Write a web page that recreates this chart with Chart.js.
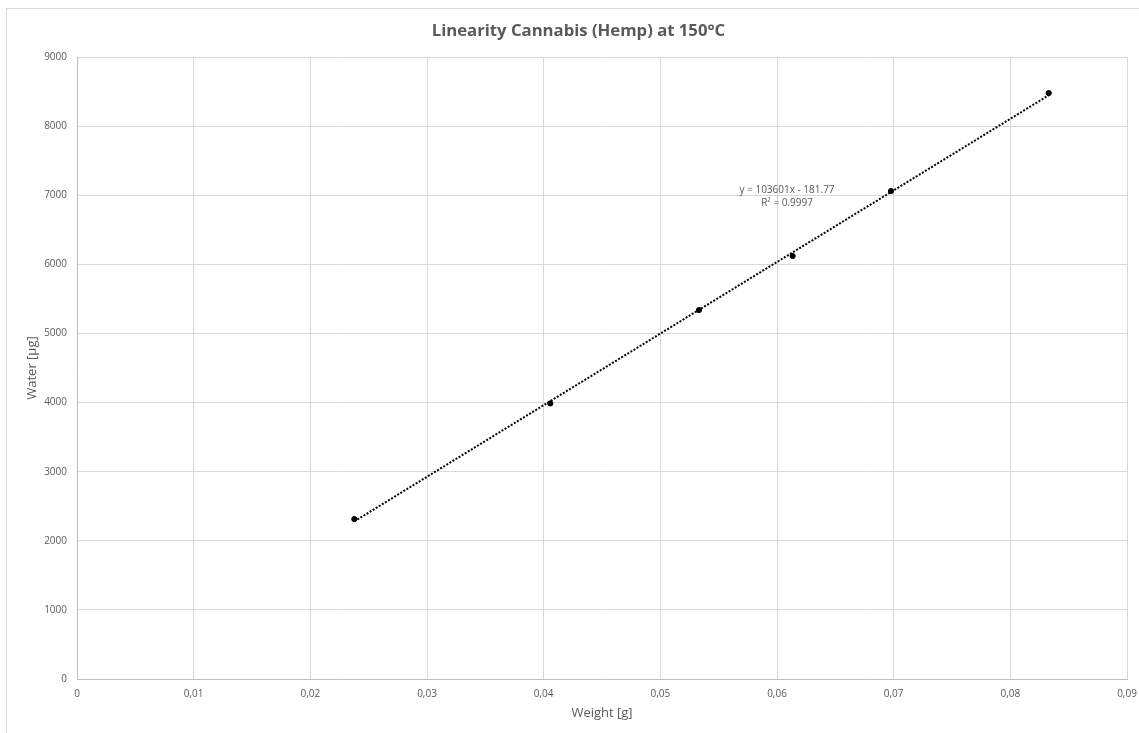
<!DOCTYPE html>
<html>
<head>
<meta charset="utf-8">
<script src="https://cdn.jsdelivr.net/npm/chart.js@4.4.0/dist/chart.umd.min.js"></script>
<style>
    body { margin: 0; background: #fff; }
    #wrap { position: relative; width: 1139px; height: 733px; overflow: hidden; }
    #frame { position: absolute; left: 6px; top: 8px; width: 1160px; height: 760px; border: 1px solid #d9d9d9; }
    #lin-chart { position: absolute; left: 0; top: 0; }
</style>
</head>
<body>
<div id="wrap">
    <div id="frame"></div>
    <canvas id="lin-chart" width="1139" height="733"></canvas>
</div>
<script>
const weight = [0.02377, 0.04057, 0.05331, 0.06134, 0.06977, 0.08329];
const water = [2315, 3988, 5339, 6121, 7061, 8479];
const slope = 103601;
const intercept = -181.77;
const equationText = ['y = 103601x - 181.77', 'R² = 0.9997'];
const textColor = '#595959';

const points = weight.map((w, i) => ({x: w, y: water[i]}));
const xMin = Math.min(...weight);
const xMax = Math.max(...weight);
const trend = [
    {x: xMin, y: slope * xMin + intercept},
    {x: xMax, y: slope * xMax + intercept}
];

// trendline label, anchored in data coordinates
const equationLabel = {
    id: 'equationLabel',
    afterDatasetsDraw(chart) {
        const ctx = chart.ctx;
        const px = chart.scales.x.getPixelForValue(0.06086);
        const py = chart.scales.y.getPixelForValue(7070);
        ctx.save();
        ctx.font = '10px "Open Sans"';
        ctx.fillStyle = textColor;
        ctx.textAlign = 'center';
        ctx.textBaseline = 'middle';
        ctx.fillText(equationText[0], px, py);
        ctx.fillText(equationText[1], px, py + 13);
        ctx.restore();
    }
};

let linChart = new Chart(document.getElementById('lin-chart'), {
    type: 'scatter',
    data: {
        datasets: [
            {
                label: 'Trend',
                data: trend,
                showLine: true,
                borderColor: '#000',
                borderWidth: 2,
                borderDash: [2, 1.6],
                pointRadius: 0,
                order: 2
            },
            {
                label: 'Water',
                data: points,
                backgroundColor: '#000',
                borderColor: '#000',
                pointRadius: 2.6,
                order: 1
            }
        ]
    },
    options: {
        responsive: false,
        animation: false,
        layout: {
            padding: {left: 22, right: 4, top: 0, bottom: 0}
        },
        plugins: {
            legend: {display: false},
            tooltip: {enabled: false},
            title: {
                display: true,
                text: 'Linearity Cannabis (Hemp) at 150°C',
                color: textColor,
                font: {family: 'Open Sans', size: 16.7, weight: 'bold'},
                padding: {top: 21, bottom: 16}
            }
        },
        scales: {
            x: {
                type: 'linear',
                min: 0,
                max: 0.09,
                afterFit: (scale) => {
                    scale.height = 54;
                    scale.paddingLeft = 0;
                    scale.paddingRight = 12;
                },
                ticks: {
                    stepSize: 0.01,
                    padding: 9,
                    color: textColor,
                    font: {family: 'Open Sans', size: 10},
                    callback: (v) => v === 0 ? '0' : (Math.round(v * 100) / 100).toFixed(2).replace('.', ',')
                },
                grid: {color: '#d9d9d9', drawTicks: false},
                border: {color: '#bfbfbf'},
                title: {
                    display: true,
                    text: 'Weight [g]',
                    color: textColor,
                    font: {family: 'Open Sans', size: 13},
                    padding: {top: 0, bottom: 12}
                }
            },
            y: {
                min: 0,
                max: 9000,
                afterFit: (scale) => { scale.width = 55; },
                ticks: {
                    stepSize: 1000,
                    padding: 10,
                    color: textColor,
                    font: {family: 'Open Sans', size: 10},
                    callback: (v) => String(v)
                },
                grid: {color: '#d9d9d9', drawTicks: false},
                border: {color: '#bfbfbf'},
                title: {
                    display: true,
                    text: 'Water [µg]',
                    color: textColor,
                    font: {family: 'Open Sans', size: 13},
                    padding: {top: 2, bottom: 0}
                }
            }
        }
    },
    plugins: [equationLabel]
});
</script>
</body>
</html>
